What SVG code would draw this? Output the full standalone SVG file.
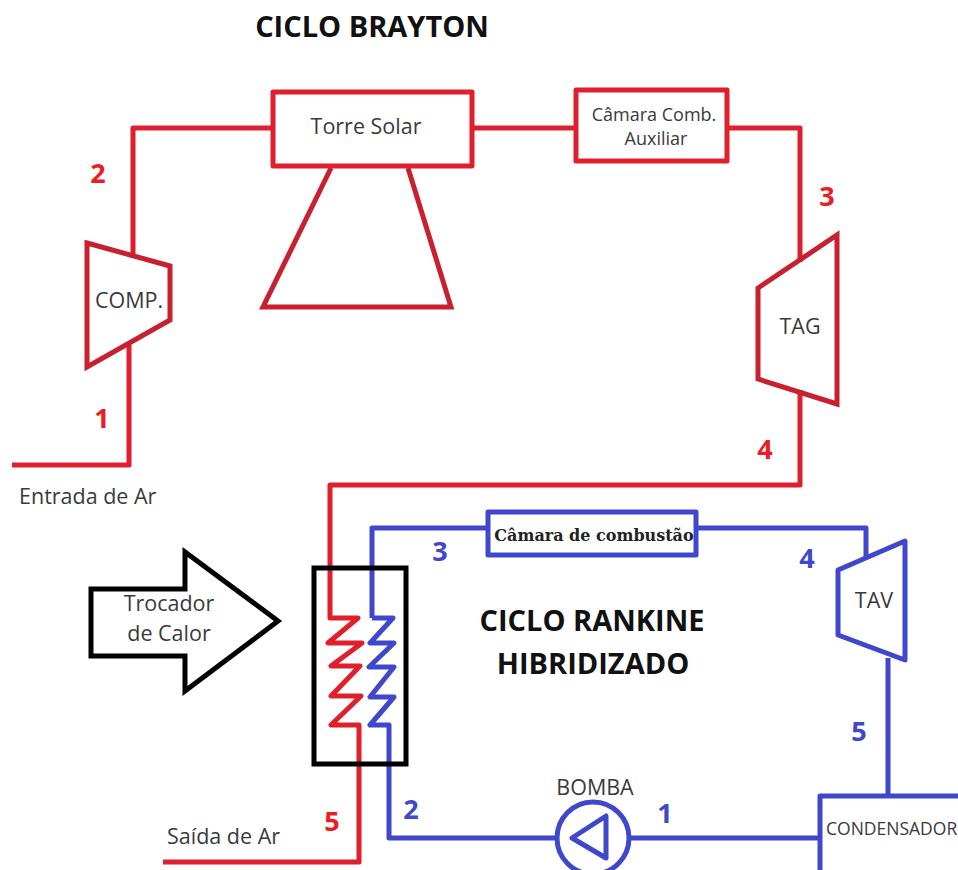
<svg xmlns="http://www.w3.org/2000/svg" width="958" height="870" viewBox="0 0 958 870">
<style>
text{font-family:"Open Sans","Liberation Sans",sans-serif;fill:#3a3a3a}
.r{fill:none;stroke:#e01f2d;stroke-width:5;stroke-linejoin:round}
.d{fill:none;stroke:#c8202f;stroke-width:5}
.b{fill:none;stroke:#3f48cc;stroke-width:5;stroke-linejoin:round}
.k{fill:none;stroke:#000;stroke-width:5}
.t{font-size:21.5px;text-anchor:middle}
.h{font-size:29px;font-weight:bold;fill:#111;text-anchor:middle}
.nr{font-size:27px;font-weight:bold;fill:#ed1c24;text-anchor:middle}
.nb{font-size:27px;font-weight:bold;fill:#3f48cc;text-anchor:middle}
</style>
<rect width="958" height="870" fill="#fff"/>
<g id="connectors">
<path class="r" d="M12 465H129V345M133 258V128H273M472 128H576M727 128H800V262"/>
<path class="r" d="M800 390V485H330V618H358L328 643H362L331 666H360L331 696H361L331 725H359V862H163"/>
<path class="b" d="M372 618V528H488M696 528H866V558"/>
<path class="b" d="M372 618H393L370 643H394L369 667H394L370 697H394L370 725H389V838H556M630 838H820M888 658V796"/>
</g>
<g id="torre"><rect class="r" x="273" y="92" width="199" height="74"/><path class="d" d="M331 168L263 307H451L408 168"/><text class="t" x="366" y="134">Torre Solar</text></g>
<g id="camara-aux"><rect class="r" x="576" y="90" width="151" height="71"/><text class="t" x="654" y="121" style="font-size:18px">Câmara Comb.</text><text class="t" x="656" y="145" style="font-size:18px">Auxiliar</text></g>
<g id="comp"><path class="d" d="M87 243L170 266V320L87 367Z"/><text class="t" x="129" y="308">COMP.</text></g>
<g id="tag"><path class="d" d="M837 235V404L758 379V288Z"/><text class="t" x="800" y="334">TAG</text></g>
<g id="trocador"><rect class="k" x="314" y="568" width="92" height="196"/><path class="k" d="M91 589H185V552L278 621L185 691V656H91Z"/><text class="t" x="169" y="611">Trocador</text><text class="t" x="169" y="641">de Calor</text></g>
<g id="camara"><rect class="b" x="488" y="512" width="208" height="43"/><text x="594" y="541" text-anchor="middle" style="font-size:16px;font-weight:bold;font-family:'DejaVu Serif',serif;fill:#222">Câmara de combustão</text></g>
<g id="tav"><path class="b" d="M905 541V660L838 635V570Z"/><text class="t" x="874" y="608">TAV</text></g>
<g id="bomba"><circle class="b" cx="593" cy="838" r="36"/><path class="b" d="M606 816V858L572 838Z"/><text class="t" x="595" y="795">BOMBA</text></g>
<g id="condensador"><rect class="b" x="820" y="796" width="150" height="80"/><text x="826" y="835" style="font-size:17.5px">CONDENSADOR</text></g>
<g id="labels">
<text class="h" x="372" y="37">CICLO BRAYTON</text>
<text class="h" x="592" y="631">CICLO RANKINE</text>
<text class="h" x="593" y="674">HIBRIDIZADO</text>
<text x="19" y="504" style="font-size:21.5px">Entrada de Ar</text>
<text x="167" y="844" style="font-size:21.5px">Saída de Ar</text>
<text class="nr" x="98" y="183">2</text><text class="nr" x="102" y="428">1</text><text class="nr" x="827" y="206">3</text><text class="nr" x="765" y="459">4</text><text class="nr" x="332" y="831">5</text>
<text class="nb" x="440" y="561">3</text><text class="nb" x="807" y="568">4</text><text class="nb" x="859" y="741">5</text><text class="nb" x="411" y="819">2</text><text class="nb" x="665" y="823">1</text>
</g>
</svg>
